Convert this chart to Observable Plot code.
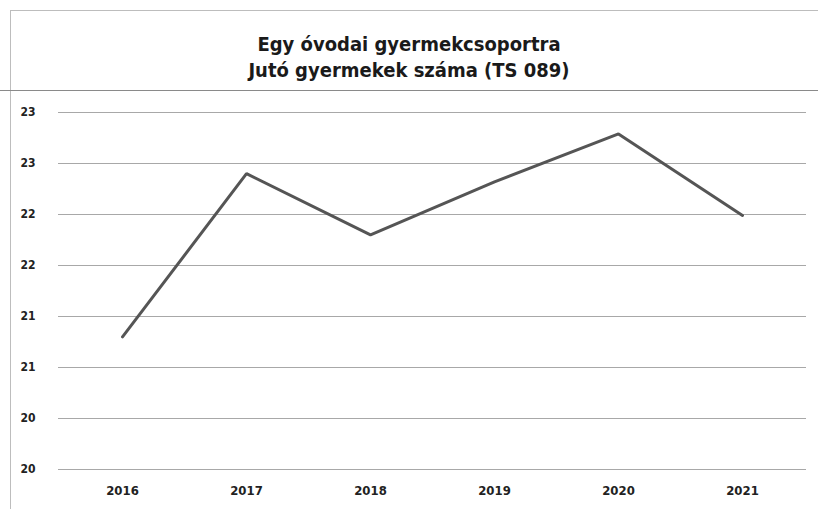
<!DOCTYPE html>
<html><head><meta charset="utf-8">
<script src="https://cdn.jsdelivr.net/npm/d3@7"></script>
<script src="https://cdn.jsdelivr.net/npm/@observablehq/plot@0.6"></script>
<style>
body{margin:0;background:#fff;}
#wrap{position:relative;width:818px;height:509px;overflow:hidden;background:#fff;}
#title{position:absolute;left:0;top:31px;width:818px;text-align:center;font-weight:bold;font-size:20px;font-family:"Liberation Sans Narrow","DejaVu Sans Condensed",sans-serif;line-height:26px;color:#1a1a1a;z-index:2;}
.fr{position:absolute;background:#bdbdbd;z-index:1;}
</style></head><body>
<div id="wrap">
<div class="fr" style="left:10px;top:10px;width:1px;height:499px;"></div>
<div class="fr" style="left:10px;top:10px;width:808px;height:1px;"></div>
<div class="fr" style="left:0;top:90px;width:818px;height:1px;background:#8a8a8a;"></div>
<div id="title">Egy óvodai gyermekcsoportra<br>Jutó gyermekek száma (TS 089)</div>
</div>
<script>
const years = ["2016", "2017", "2018", "2019", "2020", "2021"];
const values = [21.3, 22.9, 22.3, 22.82, 23.29, 22.49];
const yTicks = [20, 20.5, 21, 21.5, 22, 22.5, 23, 23.5];
const yTickLabels = ["20", "20", "21", "21", "22", "22", "23", "23"];

const data = years.map((y, i) => ({year: y, value: values[i]}));

const chart = Plot.plot({
  width: 818,
  height: 509,
  marginTop: 112,
  marginBottom: 40,
  marginLeft: 58,
  marginRight: 12,
  style: {fontFamily: "'Liberation Sans Narrow','DejaVu Sans Condensed',sans-serif", fontSize: "12px", color: "#222", background: "transparent"},
  x: {type: "point", domain: years, padding: 0.5, label: null},
  y: {domain: [20, 23.5], label: null},
  marks: [
    Plot.ruleY(yTicks, {stroke: "#a8a8a8", strokeWidth: 1}),
    Plot.axisY({ticks: yTicks, tickFormat: (d) => yTickLabels[yTicks.indexOf(d)], tickSize: 0, tickPadding: 23, fontWeight: "bold", fontSize: 12}),
    Plot.axisX({tickSize: 0, tickPadding: 16, fontWeight: "bold", fontSize: 13}),
    Plot.line(data, {x: "year", y: "value", stroke: "#555", strokeWidth: 3, strokeLinejoin: "miter"})
  ]
});
chart.style.position = "absolute";
chart.style.left = "0";
chart.style.top = "0";
document.getElementById("wrap").appendChild(chart);
</script>
</body></html>
